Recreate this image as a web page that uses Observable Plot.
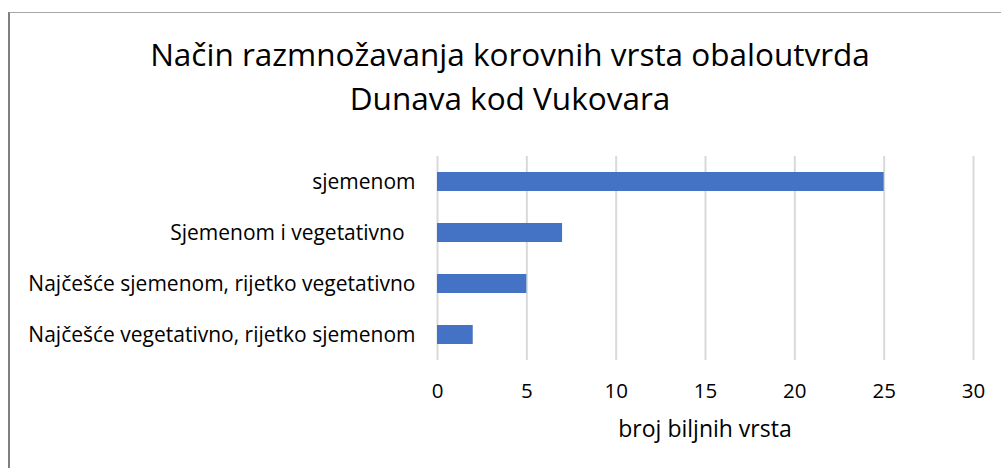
<!DOCTYPE html>
<html>
<head>
<meta charset="utf-8">
<script src="https://cdn.jsdelivr.net/npm/d3@7"></script>
<script src="https://cdn.jsdelivr.net/npm/@observablehq/plot@0.6"></script>
<style>
  html, body { margin: 0; padding: 0; background: #fff; }
  body { width: 1001px; height: 468px; position: relative; overflow: hidden; font-family: "Open Sans", sans-serif; color: #000; }
  #frame { position: absolute; left: 8px; top: 12px; width: 1100px; height: 600px; border-left: 2px solid #7f7f7f; border-top: 1px solid #a6a6a6; }
  #title { position: absolute; left: 0; top: 32px; width: 1020px; text-align: center; font-size: 31.5px; line-height: 44px; }
  #chart { position: absolute; left: 0; top: 140px; }
  #xlabel { position: absolute; left: 437px; width: 536px; top: 414px; text-align: center; font-size: 23px; line-height: 28px; }
  #chart text { white-space: pre; }
</style>
</head>
<body>
<div id="frame"></div>
<div id="title">Način razmnožavanja korovnih vrsta obaloutvrda<br>Dunava kod Vukovara</div>
<div id="chart"></div>
<div id="xlabel">broj biljnih vrsta</div>
<script>
const categories = [
  "sjemenom",
  "Sjemenom i vegetativno  ",
  "Najčešće sjemenom, rijetko vegetativno",
  "Najčešće vegetativno, rijetko sjemenom"
];
const values = [25, 7, 5, 2];
const xTicks = [0, 5, 10, 15, 20, 25, 30];

const data = categories.map((c, i) => ({category: c, value: values[i]}));

const chart = Plot.plot({
  width: 1001,
  height: 328,
  marginLeft: 437,
  marginRight: 28,
  marginTop: 16,
  marginBottom: 108,
  style: {fontFamily: "'Open Sans', sans-serif", fontSize: "21px", color: "#000", background: "transparent"},
  x: {domain: [0, 30], ticks: xTicks},
  y: {domain: categories, paddingInner: 0.63, paddingOuter: 0.315},
  marks: [
    Plot.ruleX(xTicks, {stroke: "#d9d9d9", strokeWidth: 2, strokeOpacity: 1}),
    Plot.barX(data, {x: "value", y: "category", fill: "#4472c4"}),
    Plot.axisX({ticks: xTicks, tickSize: 0, tickPadding: 23, label: null, fontSize: 20.5}),
    Plot.axisY({tickSize: 0, tickPadding: 22, label: null, fontSize: 21})
  ]
});
document.getElementById("chart").appendChild(chart);
</script>
</body>
</html>
